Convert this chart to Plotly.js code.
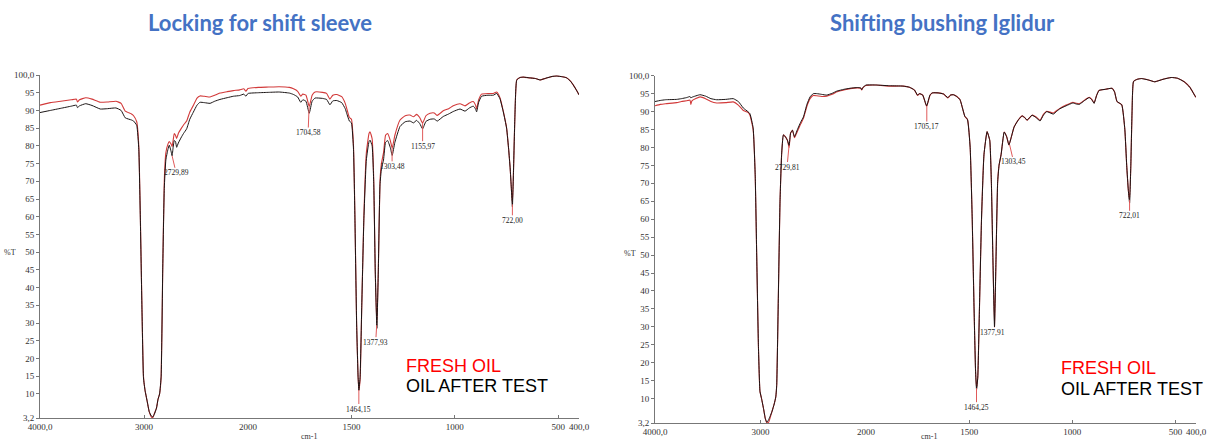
<!DOCTYPE html>
<html>
<head>
<meta charset="utf-8">
<script src="https://cdn.plot.ly/plotly-3.0.1.min.js"></script>
<style>html,body{margin:0;padding:0;background:#fff;}#chart{width:1210px;height:443px;}</style>
</head>
<body>
<div id="chart"></div>
<script>
// ---------- DATA ----------
const titleLeft = 'Locking for shift sleeve';
const titleRight = 'Shifting bushing Iglidur';
const seriesNames = ['FRESH OIL', 'OIL AFTER TEST'];
const yTickVals = [3.2, 10, 15, 20, 25, 30, 35, 40, 45, 50, 55, 60, 65, 70, 75, 80, 85, 90, 95, 100];
const yTickText = ['3,2', '10', '15', '20', '25', '30', '35', '40', '45', '50', '55', '60', '65', '70', '75', '80', '85', '90', '95', '100,0'];
const xTickHighVals = [4000, 3000, 2000];
const xTickHighText = ['4000,0', '3000', '2000'];
const xTickLowVals = [1500, 1000, 500, 400];
const xTickLowText = ['1500', '1000', '500', '400,0'];

// Left chart: wavenumber (cm-1) and %T
const wnL = [4000,3900,3800,3700,3650,3640,3620,3560,3500,3420,3350,3270,3220,3180,3120,3100,3070,3050,3035,3020,3005,2990,2970,2950,2930,2915,2900,2880,2865,2850,2835,2820,2805,2790,2770,2757,2740,2730,2720,2709,2697,2686,2670,2640,2620,2590,2560,2526,2490,2462,2420,2365,2320,2270,2200,2141,2080,2040,2020,2000,1950,1900,1850,1800,1780,1760,1745,1735,1720,1704,1690,1676,1640,1620,1604,1590,1571,1547,1530,1523,1510,1500,1490,1483,1475,1468,1464,1458,1450,1440,1428,1415,1410,1400,1392,1385,1377,1370,1362,1355,1345,1335,1325,1312,1303,1290,1265,1240,1217,1200,1185,1170,1156,1140,1120,1100,1085,1056,1030,1008,975,951,930,911,900,895,885,871,840,814,798,782,766,750,740,733,727,722,717,710,701,685,669,640,610,588,560,530,508,480,460,440,428,410,400];
const freshL = [91.5,92.2,92.6,93.0,93.2,92.4,93.0,93.6,93.2,92.3,92.4,92.6,92.0,89.8,89.0,88.5,86.8,80,60,35,15,11,8,5,3.5,3.3,4.5,6,8.5,10,15,45,70,78,80.5,81.2,80.5,79.8,81.5,83.5,83,82.1,83.5,85.0,85.9,87.0,89.5,91.4,93.5,94.1,94.0,93.8,94.3,94.9,95.3,95.6,95.8,96.1,95.4,96.2,96.5,96.6,96.7,96.5,96.1,95.4,94.0,94.6,94.3,91.1,94.3,95.2,95.1,94.8,93.2,94.3,94.5,93.9,92.0,90.6,88.0,87.5,80,60,30,15,11.1,14,35,60,78,83.5,84,82,70,45,29.4,45,70,75,78,83,83.5,81.5,79.3,83,87.3,88.5,88.7,88.2,88.9,88.0,86.4,88.5,89.2,89.3,88.6,89.9,90.5,91.3,91.9,91.3,92.1,92.5,91.5,90.4,93,94.6,94.8,94.8,95.2,93.6,89.8,85.1,79,73.9,68,63.5,72,88,98.6,99.3,99.4,99.2,99.0,98.6,99.1,99.6,99.7,99.5,99.2,98.2,97.2,95.5,94.4];
const afterL = [89.4,90.0,90.6,91.2,91.5,90.8,91.3,91.9,91.4,90.4,90.5,90.7,90.0,87.9,87.3,87,85.8,79,59,34.5,14.5,11,8,5,3.8,3.5,4.3,6,8.5,10,15,45,68,76,79,80.2,78.5,77.2,79.5,81.5,81.2,79.6,80.8,82.5,83.5,84.8,87.5,89.5,91.5,92.3,92.2,92.0,92.6,93.1,93.6,94.0,94.2,94.6,94.0,94.8,95.0,95.1,95.2,94.9,94.5,93.8,92.3,93.0,92.6,89.2,92.6,93.5,93.4,93.1,91.6,92.7,92.8,92.2,90.5,89.2,87.0,86.5,79,59,30,15,11.0,15,35,59,76,81.2,81.6,80,69,45,28.5,45,69,73.5,76,81,81.5,79.5,77.3,81,85.5,86.8,87.0,86.5,87.2,86.3,84.8,86.9,87.5,87.6,87.0,88.3,89.0,89.7,90.4,89.8,90.7,91.2,90.4,89.6,92.3,94.0,94.3,94.3,94.8,93.3,89.6,85,79,73.9,68,62.8,72,88,98.6,99.3,99.4,99.2,99.0,98.6,99.1,99.6,99.7,99.5,99.2,98.2,97.2,95.5,94.4];

// Right chart: wavenumber (cm-1) and %T
const wnR = [4000,3950,3900,3794,3750,3700,3668,3660,3650,3573,3520,3470,3415,3330,3258,3210,3163,3120,3100,3070,3050,3036,3020,3005,2990,2970,2955,2940,2925,2910,2890,2870,2855,2846,2830,2815,2800,2783,2765,2745,2729,2715,2697,2678,2650,2620,2593,2560,2530,2500,2467,2420,2372,2320,2277,2210,2151,2080,2050,2041,2030,2000,1950,1886,1820,1790,1765,1750,1740,1725,1706,1690,1679,1650,1624,1603,1590,1576,1560,1544,1530,1521,1508,1495,1485,1476,1469,1464,1458,1450,1440,1428,1413,1400,1392,1385,1377,1370,1362,1355,1345,1330,1318,1307,1295,1282,1260,1243,1230,1219,1195,1175,1156,1140,1124,1092,1075,1060,1030,997,980,966,940,918,905,894,882,870,840,807,795,783,760,745,736,728,722,716,710,703,685,664,630,600,560,520,490,457,430,402,400];
const freshR = [91.6,92.0,92.2,92.5,92.8,93.0,93.2,92.0,93.0,94.1,93.6,92.8,92.4,92.5,92.7,91.8,90.3,89.8,89.0,85,72,50,25,12,10,7,4.5,3.3,3.3,4.5,6.5,8.5,10.5,14,40,65,78,83.5,83,82,80.0,84,84.8,82.7,84.5,86.5,88.1,91.5,93.6,94.5,94.4,94.2,94.3,94.8,95.5,96.0,96.4,96.6,96.5,96.0,96.6,97.3,97.4,97.1,97.1,96.8,96.0,94.5,95.0,94.6,91.4,94.5,95.2,95.2,94.9,93.8,94.6,94.7,94.2,93.3,90.5,88.7,87.8,80,60,35,18,12.9,16,35,60,78,84.4,82,70,50,30.0,48,70,75,78,84.3,83,80.7,83,85.7,87.8,88.8,88.3,87.6,89.0,88.5,87.6,89.2,90.1,89.6,90.3,90.9,91.8,92.6,92.3,92.2,93.2,94.0,93.4,92.4,94.5,95.9,96.2,96.5,95.5,92.8,91.9,85,75,68,65.4,75,90,98.4,99.0,99.2,98.8,98.3,99.0,99.5,99.3,98.3,96.8,94.1,94.0];
const afterR = [92.8,93.1,93.3,93.4,93.6,93.9,94.2,93.8,94.0,94.7,94.3,93.6,93.3,93.4,93.6,92.8,91.0,90.0,89.4,85.5,72,50,25,12,10,7,4.5,3.4,4.0,5,6.5,8.5,10.5,14,40,65,78,83.5,83,82,80.6,84,84.8,83.0,85,87,88.5,92,94.1,95.0,95.0,94.8,94.6,95.1,95.7,96.2,96.5,96.7,96.6,96.1,96.7,97.4,97.4,97.2,97.1,96.8,96.0,94.6,95.0,94.6,91.6,94.6,95.2,95.2,94.9,93.9,94.6,94.7,94.2,93.3,90.5,88.7,87.8,80,60,35,18,12.5,16,35,60,78,84.4,82,70,50,30.0,48,70,75,78,84.3,83,80.7,83,85.7,87.8,88.8,88.3,87.6,89.0,88.3,87.4,89.0,90.0,89.3,90.1,90.8,91.6,92.4,92.1,92.0,93.1,93.9,93.3,92.3,94.5,95.9,96.2,96.5,95.5,92.8,91.9,85,75,68,64.5,75,90,98.4,99.0,99.2,98.8,98.3,99.0,99.5,99.3,98.3,96.8,94.1,94.0];

// Peak labels (wavenumber, %T at marked point)
const peaksLwn = [2729.89, 1704.58, 1464.15, 1377.93, 1303.48, 1155.97, 722.00];
const peaksLt  = [77.2, 91.1, 11.1, 29.4, 79.3, 86.4, 63.5];
const peaksRwn = [2729.81, 1705.17, 1464.25, 1377.91, 1303.45, 722.01];
const peaksRt  = [80.4, 91.4, 12.9, 30.0, 80.7, 65.4];

// ---------- STYLE / LAYOUT ----------
const W = 1210, H = 443;
const px = v => v / W;
const py = v => 1 - v / H;
const RED = '#d23a3a', BLACK = '#1a1414';
const tickFont = {family: 'Liberation Serif, serif', size: 9, color: '#333333'};

const traces = [];
function addSeries(wn, vals, color, width, xs, yax, name) {
  xs.forEach(xa => {
    traces.push({x: wn, y: vals, xaxis: xa, yaxis: yax, type: 'scatter', mode: 'lines',
      line: {color: color, width: width, shape: 'spline', smoothing: 0.4}, name: name, showlegend: false, hoverinfo: 'skip'});
  });
}
addSeries(wnL, freshL, RED, 1.1, ['x', 'x2'], 'y', seriesNames[0]);
addSeries(wnL, afterL, BLACK, 1.0, ['x', 'x2'], 'y', seriesNames[1]);
addSeries(wnR, freshR, RED, 1.1, ['x3', 'x4'], 'y2', seriesNames[0]);
addSeries(wnR, afterR, BLACK, 1.0, ['x3', 'x4'], 'y2', seriesNames[1]);

function xAx(domain, range, vals, text, anchor) {
  return {domain: domain, range: range, anchor: anchor, tickvals: vals, ticktext: text,
    showgrid: false, zeroline: false, showline: true, linecolor: '#777', linewidth: 1,
    ticks: 'inside', ticklen: 3, tickcolor: '#777', tickfont: tickFont, fixedrange: true,
    ticklabeloverflow: 'allow'};
}
function yAx(domain, anchor) {
  return {domain: domain, range: [3.2, 100], anchor: anchor, tickvals: yTickVals, ticktext: yTickText,
    showgrid: false, zeroline: false, showline: true, linecolor: '#777', linewidth: 1,
    ticks: 'outside', ticklen: 3, tickcolor: '#777', tickfont: tickFont, fixedrange: true};
}

const layout = {
  width: W, height: H, margin: {l: 0, r: 0, t: 0, b: 0},
  paper_bgcolor: '#fff', plot_bgcolor: 'rgba(0,0,0,0)', showlegend: false,
  xaxis:  xAx([px(40), px(248)], [4000, 2000], xTickHighVals, xTickHighText, 'y'),
  xaxis2: xAx([px(248), px(579)], [2000, 400], xTickLowVals, xTickLowText, 'y'),
  xaxis3: xAx([px(655), px(866)], [4000, 2000], xTickHighVals, xTickHighText, 'y2'),
  xaxis4: xAx([px(866), px(1196)], [2000, 400], xTickLowVals, xTickLowText, 'y2'),
  yaxis:  yAx([py(418), py(75)], 'x'),
  yaxis2: yAx([py(423), py(75.7)], 'x3'),
  annotations: []
};

const ann = layout.annotations;
function txt(x, y, text, font, xanchor) {
  ann.push({xref: 'paper', yref: 'paper', x: px(x), y: py(y), text: text, showarrow: false,
    font: font, xanchor: xanchor || 'center', yanchor: 'middle'});
}
const titleFont = {family: 'Lato, Open Sans, sans-serif', size: 22, color: '#4472C4'};
txt(260, 22.5, '<b>' + titleLeft + '</b>', titleFont);
txt(942, 22.5, '<b>' + titleRight + '</b>', titleFont);

const legFont = {family: 'Liberation Sans, Arial, sans-serif', size: 18};
[[404, 365.5, 386.3], [1059, 368.3, 389.3]].forEach(p => {
  txt(p[0], p[1], seriesNames[0], Object.assign({color: '#ff0000'}, legFont), 'left');
  txt(p[0], p[2], seriesNames[1], Object.assign({color: '#000000'}, legFont), 'left');
});

const smallFont = {family: 'Liberation Serif, serif', size: 8, color: '#333333'};
txt(10, 252.7, '%T', smallFont);
txt(630, 253.3, '%T', smallFont);
txt(309, 436, 'cm-1', smallFont);
txt(929, 436.5, 'cm-1', smallFont);

const peakFont = {family: 'Liberation Serif, serif', size: 7.5, color: '#222222'};
const offL = [[4, 17], [-1, 26], [0, 19], [-1, 17], [0, 18], [0, 23], [0, 16]];
const offR = [[-2, 21], [0, 20], [0, 19], [-2, 6], [4, 17], [0, 16]];
function addPeaks(wns, ts, offs, xHigh, xLow, yref) {
  wns.forEach((w, i) => {
    ann.push({xref: w > 2000 ? xHigh : xLow, yref: yref, x: w, y: ts[i],
      text: w.toFixed(2).replace('.', ','), showarrow: true, arrowhead: 0, arrowwidth: 1,
      arrowcolor: '#e05a5a', standoff: 0, startstandoff: 0, ax: offs[i][0], ay: offs[i][1],
      font: peakFont, borderpad: 0});
  });
}
addPeaks(peaksLwn, peaksLt, offL, 'x', 'x2', 'y');
addPeaks(peaksRwn, peaksRt, offR, 'x3', 'x4', 'y2');

Plotly.newPlot('chart', traces, layout, {staticPlot: true, displayModeBar: false});
</script>
</body>
</html>
